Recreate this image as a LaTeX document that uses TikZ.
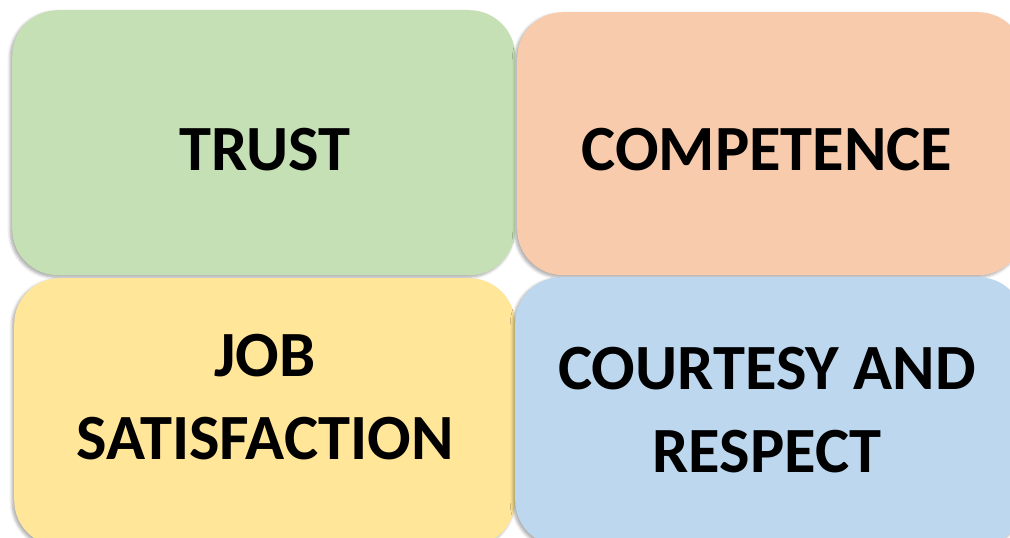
\documentclass[tikz,border=0pt]{standalone}
\usepackage{fontspec}
\setmainfont{Carlito}
\usetikzlibrary{shadows.blur}
\definecolor{cgreen}{HTML}{C5E0B4}
\definecolor{corange}{HTML}{F8CBAD}
\definecolor{cyellow}{HTML}{FFE699}
\definecolor{cblue}{HTML}{BDD7EE}
\tikzset{
  card/.style={rectangle, rounded corners=46pt, draw=none, inner sep=0pt,
    blur shadow={shadow xshift=-2pt, shadow yshift=-2pt, shadow blur steps=6, shadow blur radius=3pt, shadow opacity=35}},
  label/.style={font=\bfseries\fontsize{64.5}{83}\selectfont, align=center, text=black}
}
\begin{document}
\begin{tikzpicture}[x=1pt,y=-1pt]
\useasboundingbox (0,0) rectangle (1010,538);
\clip (0,0) rectangle (1010,538);
\node[card, fill=cgreen, minimum width=503pt, minimum height=265pt, anchor=north west] (b1) at (12,10) {};
\node[card, fill=corange, minimum width=507pt, minimum height=263pt, anchor=north west] (b2) at (517,12) {};
\node[card, fill=cyellow, minimum width=501pt, minimum height=268pt, anchor=north west] (b3) at (14,278) {};
\node[card, fill=cblue, minimum width=509pt, minimum height=269pt, anchor=north west] (b4) at (515,277) {};
\node[label] (t1) at (265,150) {TRUST};
\node[label] (t2) at (767,150) {COMPETENCE};
\node[label] (t3) at (265,397) {JOB\\SATISFACTION};
\node[label] (t4) at (767,410) {COURTESY AND\\RESPECT};
\end{tikzpicture}
\end{document}
